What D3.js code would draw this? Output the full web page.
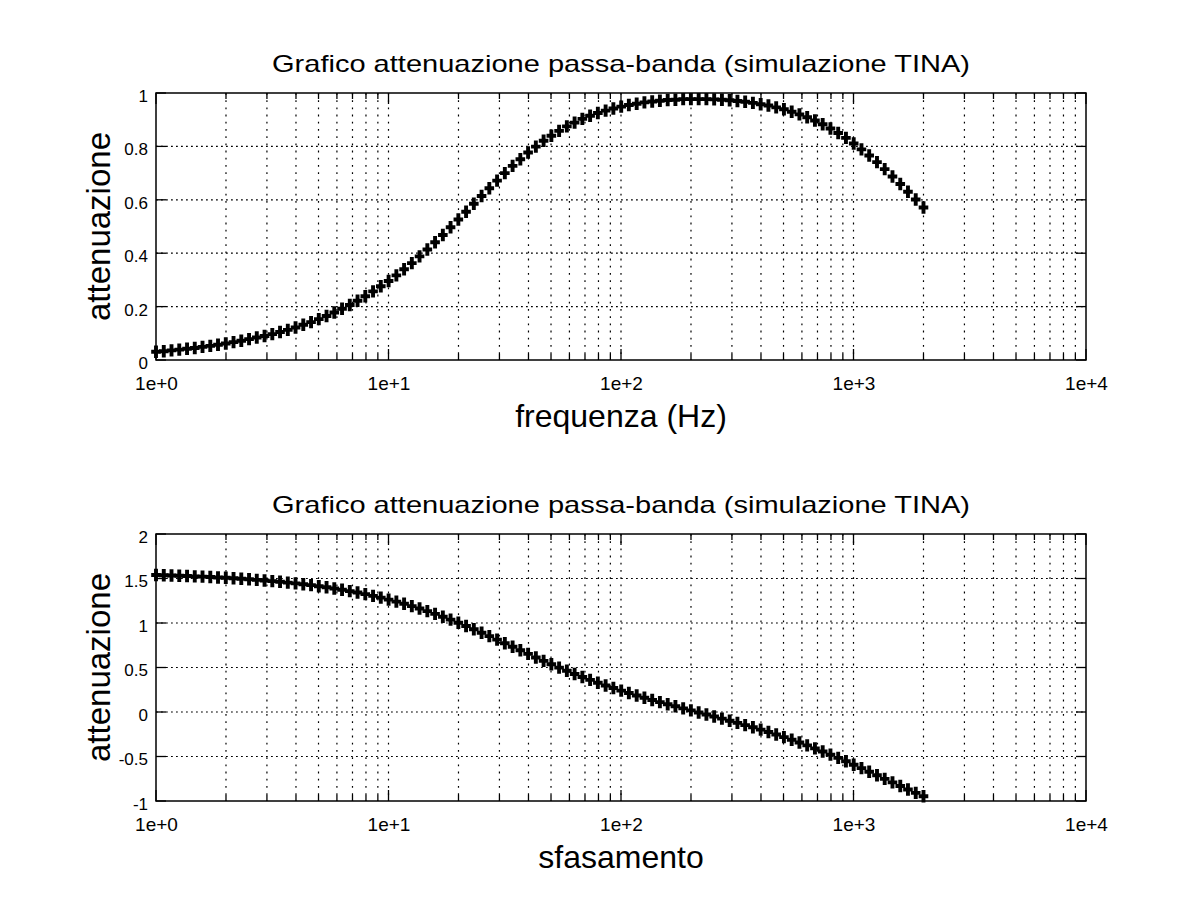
<!DOCTYPE html>
<html>
<head>
<meta charset="utf-8">
<script src="https://cdn.jsdelivr.net/npm/d3@7"></script>
<style>
  html, body { margin: 0; padding: 0; background: #fff; }
  svg { display: block; font-family: "Liberation Sans", Arial, Helvetica, sans-serif; }
</style>
</head>
<body>
<svg id="chart" width="1200" height="900"></svg>
<script>
// ---- data ----
const freq = [1.000,1.080,1.166,1.259,1.360,1.468,1.585,1.712,1.848,1.996,
2.155,2.327,2.513,2.713,2.930,3.164,3.416,3.689,3.983,4.300,
4.644,5.014,5.414,5.846,6.313,6.816,7.360,7.947,8.581,9.265,
10.01,10.81,11.67,12.60,13.60,14.69,15.86,17.13,18.49,19.97,
21.56,23.28,25.14,27.14,29.31,31.65,34.18,36.90,39.85,43.03,
46.46,50.17,54.17,58.50,63.16,68.20,73.64,79.52,85.87,92.72,
100.2,108.1,116.8,126.1,136.2,147.0,158.8,171.4,185.1,199.8,
215.8,233.0,251.6,271.7,293.4,316.8,342.0,369.3,398.8,430.6,
465.0,502.1,542.2,585.4,632.1,682.6,737.0,795.8,859.3,927.9,
1002,1082,1168,1262,1362,1471,1589,1715,1852,2000];

const attenuazione = [0.031,0.033,0.036,0.039,0.042,0.045,0.049,0.053,0.057,0.062,
0.067,0.072,0.078,0.084,0.090,0.097,0.105,0.113,0.122,0.132,
0.142,0.153,0.165,0.178,0.192,0.206,0.222,0.239,0.257,0.276,
0.296,0.317,0.340,0.363,0.388,0.414,0.441,0.468,0.497,0.526,
0.555,0.585,0.614,0.643,0.672,0.700,0.727,0.752,0.777,0.799,
0.821,0.840,0.858,0.875,0.889,0.903,0.915,0.925,0.934,0.942,
0.949,0.955,0.960,0.965,0.968,0.971,0.974,0.975,0.977,0.977,
0.977,0.977,0.976,0.975,0.973,0.970,0.967,0.963,0.958,0.953,
0.946,0.939,0.930,0.920,0.909,0.897,0.883,0.867,0.850,0.832,
0.811,0.789,0.766,0.741,0.715,0.687,0.659,0.630,0.601,0.571];

const sfasamento = [1.539,1.537,1.534,1.531,1.528,1.524,1.521,1.517,1.512,1.508,
1.503,1.497,1.491,1.485,1.478,1.471,1.463,1.454,1.445,1.435,
1.425,1.413,1.401,1.388,1.373,1.358,1.342,1.324,1.305,1.285,
1.263,1.240,1.216,1.190,1.163,1.133,1.103,1.071,1.038,1.003,
0.967,0.930,0.891,0.853,0.813,0.773,0.733,0.693,0.653,0.613,
0.574,0.536,0.499,0.463,0.427,0.393,0.361,0.329,0.298,0.269,
0.240,0.213,0.186,0.160,0.135,0.111,0.087,0.064,0.041,0.018,
-0.005,-0.028,-0.051,-0.074,-0.098,-0.122,-0.147,-0.172,-0.198,-0.225,
-0.253,-0.282,-0.312,-0.343,-0.375,-0.409,-0.443,-0.479,-0.515,-0.553,
-0.592,-0.631,-0.671,-0.711,-0.751,-0.791,-0.831,-0.870,-0.909,-0.947];

const xTickValues = [1, 10, 100, 1000, 10000];
const xTickLabels = ["1e+0", "1e+1", "1e+2", "1e+3", "1e+4"];
const yTicksTop = [0, 0.2, 0.4, 0.6, 0.8, 1];
const yTickLabelsTop = ["0", "0.2", "0.4", "0.6", "0.8", "1"];
const yTicksBot = [-1, -0.5, 0, 0.5, 1, 1.5, 2];
const yTickLabelsBot = ["-1", "-0.5", "0", "0.5", "1", "1.5", "2"];

const titleText = "Grafico attenuazione passa-banda (simulazione TINA)";

// ---- drawing ----
const svg = d3.select("#chart");
const left = 156, right = 1086;
const x = d3.scaleLog().domain([1, 10000]).range([left, right]);

function panel(cfg) {
  const y = d3.scaleLinear().domain(cfg.yDomain).range([cfg.bottom, cfg.top]);
  const g = svg.append("g");
  const top = cfg.top, bottom = cfg.bottom;

  // vertical grid (all log ticks)
  const allX = x.ticks().filter(v => v > 1 && v < 10000);
  g.append("g").selectAll("line").data(allX).join("line")
    .attr("x1", d => x(d)).attr("x2", d => x(d))
    .attr("y1", top).attr("y2", bottom)
    .attr("stroke", "#000").attr("stroke-width", 1.2)
    .attr("stroke-dasharray", "1.8,5.4");

  // horizontal grid
  g.append("g").selectAll("line").data(cfg.yTicks.filter((d, i) => i > 0 && i < cfg.yTicks.length - 1)).join("line")
    .attr("x1", left).attr("x2", right)
    .attr("y1", d => y(d)).attr("y2", d => y(d))
    .attr("stroke", "#000").attr("stroke-width", 1.2)
    .attr("stroke-dasharray", "1.8,3.2");

  // ticks: x minor & major, bottom and top
  const allXt = x.ticks();
  g.append("g").selectAll("line").data(allXt).join("line")
    .attr("x1", d => x(d)).attr("x2", d => x(d))
    .attr("y1", bottom).attr("y2", d => bottom - (xTickValues.includes(d) ? 11 : 6))
    .attr("stroke", "#000").attr("stroke-width", 1.3);
  g.append("g").selectAll("line").data(allXt).join("line")
    .attr("x1", d => x(d)).attr("x2", d => x(d))
    .attr("y1", top).attr("y2", d => top + (xTickValues.includes(d) ? 11 : 6))
    .attr("stroke", "#000").attr("stroke-width", 1.3);
  // y ticks left and right
  g.append("g").selectAll("line").data(cfg.yTicks).join("line")
    .attr("x1", left).attr("x2", left + 10)
    .attr("y1", d => y(d)).attr("y2", d => y(d))
    .attr("stroke", "#000").attr("stroke-width", 1.3);
  g.append("g").selectAll("line").data(cfg.yTicks).join("line")
    .attr("x1", right).attr("x2", right - 10)
    .attr("y1", d => y(d)).attr("y2", d => y(d))
    .attr("stroke", "#000").attr("stroke-width", 1.3);

  // frame
  g.append("rect").attr("x", left).attr("y", top)
    .attr("width", right - left).attr("height", bottom - top)
    .attr("fill", "none").attr("stroke", "#000").attr("stroke-width", 1.5);

  // x tick labels via axis
  const xAxis = d3.axisBottom(x).tickValues(xTickValues)
    .tickFormat((d, i) => xTickLabels[i]).tickSize(0).tickPadding(0);
  const xa = g.append("g").attr("transform", `translate(0,${bottom + 16})`).call(xAxis);
  xa.select(".domain").remove();
  xa.selectAll("text").attr("font-size", 19).attr("fill", "#000")
    .attr("font-family", "'Liberation Sans', Arial, sans-serif");

  // y tick labels via axis
  const yAxis = d3.axisLeft(y).tickValues(cfg.yTicks)
    .tickFormat((d, i) => cfg.yLabels[i]).tickSize(0).tickPadding(0);
  const ya = g.append("g").attr("transform", `translate(${left - 8},3)`).call(yAxis);
  ya.select(".domain").remove();
  ya.selectAll("text").attr("font-size", 17).attr("fill", "#000")
    .attr("font-family", "'Liberation Sans', Arial, sans-serif");

  // markers
  const data = freq.map((f, i) => ({ f, v: cfg.values[i] }));
  g.append("g").selectAll("path").data(data).join("path")
    .attr("transform", d => `translate(${x(d.f)},${y(d.v)})`)
    .attr("d", "M-4.8,0H4.8M0,-6.2V6.2")
    .attr("stroke", "#000").attr("stroke-width", 3.9).attr("fill", "none");

  // title
  g.append("text").attr("x", (left + right) / 2).attr("y", top - 21)
    .attr("text-anchor", "middle").attr("font-size", 24)
    .attr("textLength", 698).attr("lengthAdjust", "spacingAndGlyphs")
    .text(titleText);
  // x label
  g.append("text").attr("x", (left + right) / 2).attr("y", bottom + 67)
    .attr("text-anchor", "middle").attr("font-size", 32).text(cfg.xlabel);
  // y label
  g.append("text")
    .attr("transform", `translate(110,${(top + bottom) / 2}) rotate(-90)`)
    .attr("text-anchor", "middle").attr("font-size", 33).text("attenuazione");
}

panel({ top: 93, bottom: 360, yDomain: [0, 1], yTicks: yTicksTop, yLabels: yTickLabelsTop,
        values: attenuazione, xlabel: "frequenza (Hz)" });
panel({ top: 534, bottom: 801, yDomain: [-1, 2], yTicks: yTicksBot, yLabels: yTickLabelsBot,
        values: sfasamento, xlabel: "sfasamento" });
</script>
</body>
</html>
